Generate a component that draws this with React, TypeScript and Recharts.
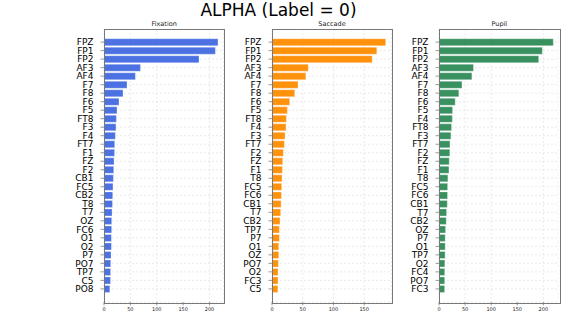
import React from 'react';
import { BarChart, Bar, XAxis, YAxis, CartesianGrid } from 'recharts';

const fixLabels = ['FPZ','FP1','FP2','AF3','AF4','F7','F8','F6','F5','FT8','F3','F4','FT7','F1','FZ','F2','CB1','FC5','CB2','T8','T7','OZ','FC6','O1','O2','P7','PO7','TP7','C5','PO8'];
const fixValues = [216, 211, 180, 69, 59.5, 43.6, 36, 28.4, 24.6, 23.4, 22.7, 21.5, 20.3, 20, 19, 18.4, 17.8, 17, 16.5, 16, 15.2, 14.6, 14.5, 14, 14, 13.3, 12.7, 12.5, 12.3, 11];

const sacLabels = ['FPZ','FP1','FP2','AF3','AF4','F7','F8','F6','F5','FT8','F4','F3','FT7','F2','FZ','F1','T8','FC5','FC6','CB1','T7','CB2','TP7','P7','O1','OZ','PO7','O2','FC3','C5'];
const sacValues = [185, 170.5, 163, 59, 55, 42.4, 37, 28.8, 25, 23.4, 22.8, 21.2, 20.2, 18.5, 17.4, 16.9, 16.3, 15.8, 15.3, 14.7, 14.1, 13, 12, 12, 11, 11, 10.4, 9.8, 9.8, 9.5];

const pupLabels = ['FPZ','FP1','FP2','AF3','AF4','F7','F8','F6','F5','F4','FT8','F3','FT7','F2','FZ','F1','T8','FC5','FC6','CB1','T7','CB2','OZ','P7','O1','TP7','O2','FC4','PO7','FC3'];
const pupValues = [219, 198, 191, 66, 63, 44, 38, 31, 26, 25.5, 24, 22.8, 21, 20.7, 19.6, 19, 17, 16.5, 16.3, 15.8, 14.5, 13.9, 12.6, 11.9, 11.9, 11.7, 11.2, 11, 10.9, 10.8];

const fixTicks = [0, 50, 100, 150, 200];
const sacTicks = [0, 50, 100, 150];
const pupTicks = [0, 50, 100, 150, 200];

const FONT = '"DejaVu Sans", sans-serif';
const AXIS_W = 40;
const X_H = 20;
const PLOT_TOP = 29;
const PLOT_H = 273;

type PanelProps = {
  title: string;
  labels: string[];
  values: number[];
  ticks: number[];
  color: string;
  plotLeft: number;
  plotW: number;
};

function Panel({ title, labels, values, ticks, color, plotLeft, plotW }: PanelProps) {
  const data = labels.map((name, i) => ({ name, value: values[i] }));
  return (
    <>
      <div
        style={{
          position: 'absolute',
          left: plotLeft,
          top: 20,
          width: plotW,
          textAlign: 'center',
          fontFamily: FONT,
          fontSize: 6.5,
          color: '#222',
          lineHeight: '8px',
        }}
      >
        {title}
      </div>
      <div style={{ position: 'absolute', left: plotLeft - AXIS_W, top: PLOT_TOP }}>
        <BarChart
          width={plotW + AXIS_W}
          height={PLOT_H + X_H}
          data={data}
          layout="vertical"
          margin={{ top: 0, right: 0, bottom: 0, left: 0 }}
          barCategoryGap="10%"
        >
          <CartesianGrid stroke="#dcdcdc" strokeDasharray="2 2" strokeWidth={0.6} />
          <XAxis
            type="number"
            domain={[0, (dataMax: number) => dataMax * 1.05]}
            ticks={ticks}
            height={X_H}
            tickSize={3.5}
            tickMargin={1.8}
            axisLine={false}
            tickLine={{ stroke: '#555', strokeWidth: 0.6 }}
            tick={{ fontSize: 5, fill: '#222', fontFamily: FONT }}
            allowDataOverflow
          />
          <YAxis
            type="category"
            dataKey="name"
            width={AXIS_W}
            interval={0}
            padding={{ top: 8.85, bottom: 8.85 }}
            tickSize={3.5}
            tickMargin={7}
            axisLine={false}
            tickLine={{ stroke: '#555', strokeWidth: 0.6 }}
            tick={{ fontSize: 9, fill: '#000', fontFamily: FONT }}
          />
          <Bar
            dataKey="value"
            fill={color}
            fillOpacity={0.95}
            stroke="#ffffff"
            strokeOpacity={0.5}
            strokeWidth={0.6}
            isAnimationActive={false}
          />
        </BarChart>
      </div>
      <div
        style={{
          position: 'absolute',
          left: plotLeft - 0.5,
          top: PLOT_TOP - 0.5,
          width: plotW,
          height: PLOT_H,
          border: '0.8px solid #777',
          pointerEvents: 'none',
        }}
      />
    </>
  );
}

export default function App() {
  return (
    <div
      style={{
        position: 'absolute',
        left: 0,
        top: 0,
        width: 571,
        height: 330,
        background: '#fff',
        overflow: 'hidden',
      }}
    >
      <div
        style={{
          position: 'absolute',
          left: 0,
          top: 0,
          width: 557,
          textAlign: 'center',
          fontFamily: FONT,
          fontSize: 17,
          color: '#000',
          lineHeight: '20px',
        }}
      >
        ALPHA (Label = 0)
      </div>
      <Panel title="Fixation" labels={fixLabels} values={fixValues} ticks={fixTicks} color="#4169E1" plotLeft={104.3} plotW={119.7} />
      <Panel title="Saccade" labels={sacLabels} values={sacValues} ticks={sacTicks} color="#FF8C00" plotLeft={272.3} plotW={119.4} />
      <Panel title="Pupil" labels={pupLabels} values={pupValues} ticks={pupTicks} color="#2E8B57" plotLeft={439.3} plotW={120} />
    </div>
  );
}
